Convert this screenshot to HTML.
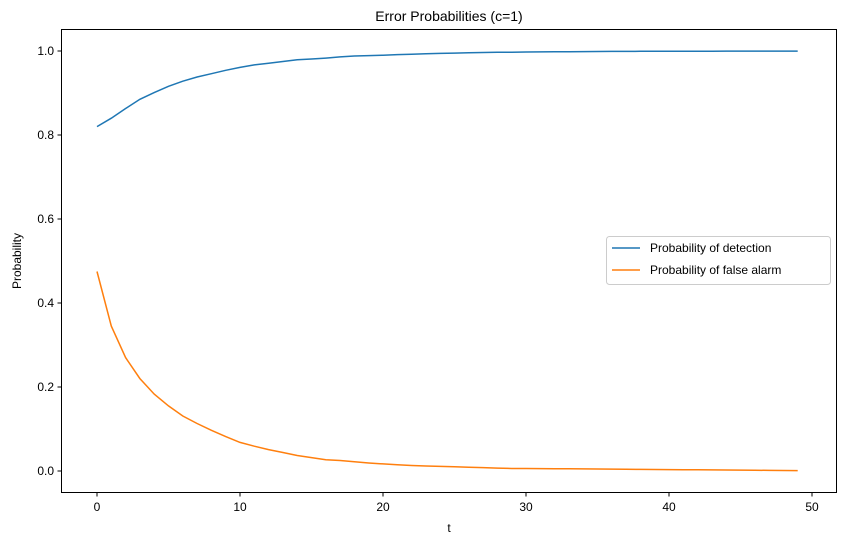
<!DOCTYPE html>
<html><head><meta charset="utf-8"><style>body{margin:0;background:#fff}svg{display:block;font-family:"Liberation Sans","DejaVu Sans",sans-serif}</style></head>
<body>
<svg id="s" width="846" height="545" xmlns="http://www.w3.org/2000/svg">
<rect width="846" height="545" fill="#fff"/>
<text x="449" y="21" font-size="14" text-anchor="middle">Error Probabilities (c=1)</text>
<g id="ticks" font-size="12" fill="#000"></g>
<path id="pd" fill="none" stroke="#1f77b4" stroke-width="1.5"/>
<path id="pf" fill="none" stroke="#ff7f0e" stroke-width="1.5"/>
<rect x="61.5" y="29.5" width="775" height="463" fill="none" stroke="#000" stroke-width="1"/>
<text x="449" y="532" font-size="12" text-anchor="middle">t</text>
<text transform="translate(21,261) rotate(-90)" font-size="12" text-anchor="middle">Probability</text>
<rect x="606.5" y="236.5" width="224" height="48" rx="3" fill="#fff" stroke="#ccc"/>
<line x1="612" y1="248" x2="640" y2="248" stroke="#1f77b4" stroke-width="1.5"/>
<text x="650" y="252" font-size="12">Probability of detection</text>
<line x1="612" y1="270" x2="640" y2="270" stroke="#ff7f0e" stroke-width="1.5"/>
<text x="650" y="274" font-size="12">Probability of false alarm</text>
</svg>
<script>
var X=t=>97+14.3*t, Y=v=>471-420*v;
var pf=[.475,.345,.270,.220,.183,.155,.131,.113,.097,.082,.068,.059,.051,.044,.037,.032,.027,.025,.022,.019,.017,.015,.013,.012,.011,.010,.009,.008,.007,.006,.006];
for(var i=31;i<50;i++)pf.push(.006-(i-30)*.005/19);
var pd=[.820,.840,.863,.885,.901,.916,.928,.938,.946,.954,.961,.967,.971,.975,.979,.981,.983,.986,.988,.989,.990];
for(i=21;i<50;i++)pd.push(1-0.010*Math.exp(-(i-20)/7));
function path(a){return a.map((v,i)=>(i?'L':'M')+X(i).toFixed(1)+' '+Y(v).toFixed(1)).join('')}
document.getElementById('pd').setAttribute('d',path(pd));
document.getElementById('pf').setAttribute('d',path(pf));
var g=document.getElementById('ticks'),h='';
for(var k=0;k<=50;k+=10){var x=X(k);h+='<line x1="'+x+'" y1="492.5" x2="'+x+'" y2="496.5" stroke="#000"/><text x="'+x+'" y="511" text-anchor="middle">'+k+'</text>';}
for(k=0;k<=5;k++){var v=k*0.2,y=Y(v);h+='<line x1="57.5" y1="'+y+'" x2="61.5" y2="'+y+'" stroke="#000"/><text x="54" y="'+(y+4)+'" text-anchor="end">'+v.toFixed(1)+'</text>';}
g.innerHTML=h;
</script>
</body></html>
